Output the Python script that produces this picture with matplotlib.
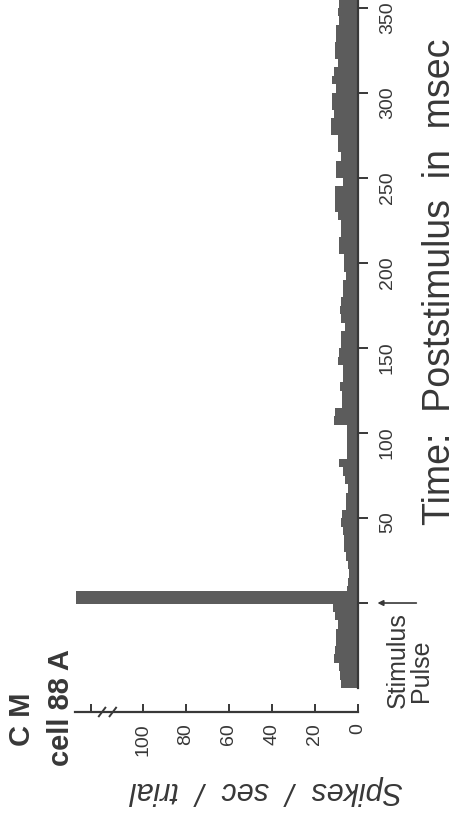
import numpy as np
import matplotlib
matplotlib.use("Agg")
import matplotlib.pyplot as plt

plt.rcParams["font.family"] = ["Liberation Sans", "DejaVu Sans"]

# PST histogram, 5 ms bins starting at -50 ms (spikes/sec/trial)
bin_start = -50
bin_width = 5
rate = [
    8, 8.5, 9, 11, 10.5, 10, 10, 9.5, 10.5, 11.5,          # -50 .. -5
    5, 5, 4.5, 4, 4.5, 5.5, 6.5, 6.5, 7, 8,                 # 0 .. 45
    7.3, 5.6, 5.6, 4.7, 6, 7, 9, 5, 5, 5,                   # 50 .. 95
    5, 11, 10.5, 7.5, 7.5, 8.5, 7, 7, 9.5, 8.7,             # 100 .. 145
    8, 8, 6, 8, 8.5, 8, 7, 7, 5.6, 6.5,                     # 150 .. 195
    6.5, 9, 9, 8, 8, 9.5, 10.7, 10.7, 10.7, 7,              # 200 .. 245
    10, 10, 8, 9.3, 9.3, 12.5, 12.5, 11, 12, 12,            # 250 .. 295
    10, 12, 11.3, 9.3, 10.7, 10.7, 10, 10, 8.7, 9.3,        # 300 .. 345
    8.7, 8.7,                                               # 350 .. 355
]

# response peak right after the stimulus pulse
peak_on = -0.5
peak_len = 7.5
peak_rate = 131

time_ticks = [0, 50, 100, 150, 200, 250, 300, 350]
time_labels = ["", "50", "100", "150", "200", "250", "300", "350"]
rate_ticks = [0, 20, 40, 60, 80, 100, 124]
rate_labels = ["0", "20", "40", "60", "80", "100", ""]

edges = bin_start + bin_width * np.arange(len(rate) + 1)

bar_color = "#5c5c5c"
ink = "#383838"

fig = plt.figure(figsize=(4.62, 8.18), dpi=100)
ax = fig.add_axes([0.1623, 0.1296, 0.6126, 0.8704])

ax.stairs(rate, edges, orientation="horizontal", fill=True,
          color=bar_color, baseline=0)
ax.barh(peak_on, peak_rate, height=peak_len, align="edge",
        color=bar_color, linewidth=0)

ax.set_xlim(131.6, 0)
ax.set_ylim(-64.1, 354.7)

# spines
ax.spines["top"].set_visible(False)
ax.spines["left"].set_visible(False)
ax.spines["right"].set_bounds(bin_start, 360)
ax.spines["bottom"].set_bounds(0, 131.6)
for s in ("right", "bottom"):
    ax.spines[s].set_linewidth(1.6)
    ax.spines[s].set_color(ink)

ax.yaxis.tick_right()
ax.set_yticks(time_ticks)
ax.set_yticklabels(time_labels, rotation=90, fontsize=14, color=ink)
ax.tick_params(axis="y", direction="out", length=7, width=1.4,
               pad=8, colors=ink)

ax.set_xticks(rate_ticks)
ax.set_xticklabels(rate_labels, rotation=90, fontsize=14, color=ink)
ax.tick_params(axis="x", direction="in", length=6, width=1.4,
               pad=8, colors=ink)

# axis break on the rate axis
trans = ax.get_xaxis_transform()
for xb in (119, 114):
    ax.plot([xb + 1.5, xb - 1.5], [-0.006, 0.006], transform=trans,
            color=ink, lw=1.4, clip_on=False)

# stimulus marker
ax.annotate("", xy=(0, 0), xycoords="data", xytext=(42, 0),
            textcoords="offset points",
            arrowprops=dict(arrowstyle="-|>", color=ink, lw=1.2,
                            shrinkA=0, shrinkB=14, mutation_scale=8))
fig.text(398 / 462, 1 - 660 / 818, "Stimulus", rotation=90,
         ha="center", va="center", fontsize=18, color=ink)
fig.text(421 / 462, 1 - 671 / 818, "Pulse", rotation=90,
         ha="center", va="center", fontsize=18, color=ink)

# axis titles
fig.text(440 / 462, 1 - 282 / 818, "Time:  Poststimulus  in  msec",
         rotation=90, ha="center", va="center", fontsize=27, color=ink)
fig.text(266 / 462, 1 - 790 / 818, "Spikes  /  sec  /  trial",
         rotation=180, ha="center", va="center", fontsize=22,
         style="italic", color=ink)

# cell label
fig.text(22 / 462, 1 - 719 / 818, "C M", rotation=90, ha="center",
         va="center", fontsize=21, fontweight="bold", color=ink)
fig.text(61 / 462, 1 - 708 / 818, "cell 88 A", rotation=90, ha="center",
         va="center", fontsize=21, fontweight="bold", color=ink)

fig.savefig("out.png", dpi=100, facecolor="white")
